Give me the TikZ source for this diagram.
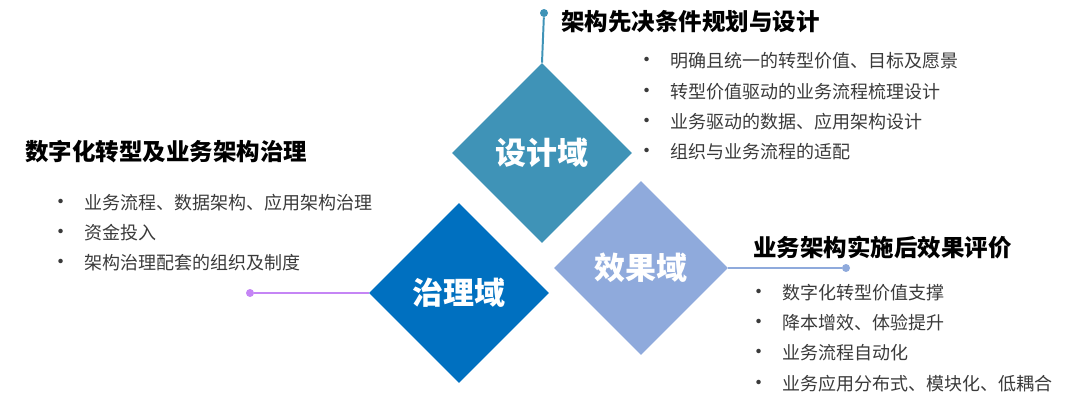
\documentclass[tikz,border=0pt]{standalone}
\usepackage{fontspec}
\setmainfont{Noto Sans CJK SC}
\usepackage{tikz}
\usetikzlibrary{positioning, shapes.geometric}
\definecolor{dteal}{HTML}{3F93B7}
\definecolor{dblue}{HTML}{0070C0}
\definecolor{dlight}{HTML}{8FAADC}
\definecolor{dviolet}{HTML}{C585F5}
\definecolor{itemgray}{HTML}{3A3A3A}
\newcommand{\dotitem}{\makebox[18pt][l]{\hspace{-6pt}\fontsize{15}{15}\selectfont•}}
\tikzset{
  domain/.style={
    diamond, aspect=1, fill=#1, draw=none, inner sep=0pt,
    minimum width=4.5cm, minimum height=4.5cm,
    text=white, font=\fontsize{22}{26}\selectfont\bfseries
  },
  headline/.style={
    anchor=west, inner sep=0pt, text=black,
    font=\fontsize{16.7}{20}\selectfont\bfseries
  },
  itemlist/.style={
    anchor=north west, inner sep=0pt, align=left, text=itemgray,
    font=\fontsize{12.8}{21.6}\selectfont
  },
  stem/.style={draw=#1, line width=1.4pt},
  knob/.style={circle, fill=#1, inner sep=0pt, minimum size=0.2cm}
}
\begin{document}
\begin{tikzpicture}
  \useasboundingbox (0,0) rectangle (27,10.1);
  % three domains
  \node[domain=dteal] (dsn) at (13.55,6.275) {设计域};
  \node[domain=dblue] (gov) at (11.475,2.775) {治理域};
  \node[domain=dlight,minimum width=4.35cm,minimum height=4.35cm] (eff) at (16.025,3.4) {效果域};

  % stems with end knobs
  \node[knob=dteal] (dsnknob) at (13.6,9.775) {};
  \node[knob=dviolet] (govknob) at (6.25,2.775) {};
  \node[knob=dlight] (effknob) at (21.15,3.4) {};
  \draw[stem=dteal] (dsn.north) -- (dsnknob);
  \draw[stem=dviolet] (gov.west) -- (govknob);
  \draw[stem=dlight] (eff.east) -- (effknob);

  % headlines
  \node[headline] (dsnhead) at (14.025,9.55) {架构先决条件规划与设计};
  \node[headline] (govhead) at (0.625,6.3) {数字化转型及业务架构治理};
  \node[headline] (effhead) at (18.825,3.925) {业务架构实施后效果评价};

  % item lists
  \node[itemlist] (dsnlist) at (16.125,8.79)
    {\dotitem 明确且统一的转型价值、目标及愿景\\
     \dotitem 转型价值驱动的业务流程梳理设计\\
     \dotitem 业务驱动的数据、应用架构设计\\
     \dotitem 组织与业务流程的适配};
  \node[itemlist] (govlist) at (1.475,5.26)
    {\dotitem 业务流程、数据架构、应用架构治理\\
     \dotitem 资金投入\\
     \dotitem 架构治理配套的组织及制度};
  \node[itemlist] (efflist) at (18.925,3.01)
    {\dotitem 数字化转型价值支撑\\
     \dotitem 降本增效、体验提升\\
     \dotitem 业务流程自动化\\
     \dotitem 业务应用分布式、模块化、低耦合};
\end{tikzpicture}
\end{document}
